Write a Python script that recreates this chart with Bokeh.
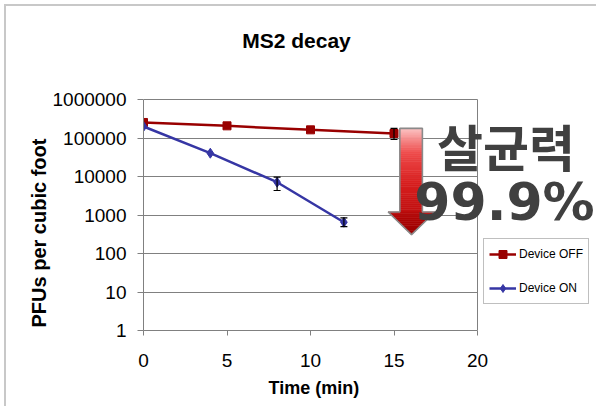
import numpy as np
from bokeh.plotting import figure
from bokeh.models import (Range1d, FixedTicker, Label, Legend, LegendItem, Title,
                          Whisker, ColumnDataSource, TeeHead, BoxAnnotation)
from bokeh.embed import file_html
from bokeh.resources import INLINE

# ---------------- data ----------------
title_text = "MS2 decay"
x_label = "Time (min)"
y_label = "PFUs per cubic foot"
x_ticks = [0, 5, 10, 15, 20]
y_ticks = [1, 10, 100, 1000, 10000, 100000, 1000000]
y_tick_labels = ["1", "10", "100", "1000", "10000", "100000", "1000000"]

off_name = "Device OFF"
off_time = [0, 5, 10, 15]
off_pfu = [253000, 207000, 163000, 131000]
off_upper = [253000, 207000, 163000, 177000]
off_lower = [253000, 207000, 163000, 91500]

on_name = "Device ON"
on_time = [0, 4, 8, 12]
on_pfu = [199000, 40300, 7100, 650]
on_upper = [199000, 40300, 9600, 846]
on_lower = [199000, 40300, 4330, 500]

annot_line1 = "살균력"
annot_line2 = "99.9%"

# ---------------- layout ----------------
OX, OY = 6, 6                        # canvas offset on page (margin 4 + border 2)
W, H = 592, 402
FL, FB = 143, 330                    # plot-area left / bottom (page px)
AX_R, AX_T = 477, 99                 # where x=20 and y=1e6 sit (page px)
X_MAX, Y_MAX = x_ticks[-1], y_ticks[-1]
px_per_x = (AX_R - FL) / X_MAX
px_per_dec = (FB - AX_T) / np.log10(Y_MAX)
x_end = X_MAX + (OX + W - AX_R) / px_per_x
y_end = 10 ** (np.log10(Y_MAX) + (AX_T - OY) / px_per_dec)

p = figure(width=W, height=H, output_backend="svg", toolbar_location=None,
           title=None, y_axis_type="log",
           x_range=Range1d(0, x_end), y_range=Range1d(1, y_end),
           min_border=0, min_border_left=FL - OX, min_border_right=0,
           min_border_top=0, min_border_bottom=OY + H - FB,
           background_fill_color="white", border_fill_color="white")
p.styles = {"border-top": "2px solid #c8c8c8", "border-left": "2px solid #c8c8c8",
            "margin-top": "4px", "margin-left": "4px"}

p.outline_line_color = None
p.xgrid.visible = False
p.ygrid.grid_line_color = "#808080"
p.ygrid.grid_line_width = 1
p.ygrid.ticker = FixedTicker(ticks=y_ticks)

p.xaxis.ticker = FixedTicker(ticks=x_ticks)
p.yaxis.ticker = FixedTicker(ticks=y_ticks)
p.xaxis.bounds = (x_ticks[0], x_ticks[-1])
p.yaxis.bounds = (y_ticks[0], y_ticks[-1])
p.yaxis.major_label_overrides = {t: l for t, l in zip(y_ticks, y_tick_labels)}
for ax in (p.xaxis, p.yaxis):
    ax.axis_line_color = "#808080"
    ax.major_tick_line_color = "#808080"
    ax.minor_tick_line_color = None
    ax.major_tick_in = 0
    ax.major_label_text_font = "Liberation Sans"
    ax.major_label_text_font_size = "19px"
    ax.major_label_text_color = "black"
p.yaxis.major_tick_out = 6
p.yaxis.major_label_standoff = 11
p.xaxis.major_tick_out = 5
p.xaxis.major_label_standoff = 18

# axis titles (placed by the layout, outside the axes)
p.add_layout(Title(text=y_label, align="left", offset=3, standoff=0,
                   vertical_align="bottom", text_font="Liberation Sans",
                   text_font_size="20px", text_font_style="bold",
                   text_color="black"), "left")
p.add_layout(Title(text=x_label, align="left", offset=268 - FL, standoff=17,
                   vertical_align="top", text_font="Liberation Sans",
                   text_font_size="18px", text_font_style="bold",
                   text_color="black"), "below")

# hide grid beyond the plot area on the right
p.add_layout(BoxAnnotation(left=X_MAX, fill_color="white", fill_alpha=1,
                           line_color=None, level="underlay"))
# right border of plot area
p.segment(x0=[X_MAX], y0=[y_ticks[0]], x1=[X_MAX], y1=[Y_MAX],
          line_color="#808080", line_width=1)

# ---------------- arrow (decoration) ----------------
SHAFT_X0, SHAFT_X1 = 15.35, 16.7
HEAD_X0, HEAD_X1 = 14.65, 17.45
TOP, NECK, TIP = 1.78e5, 1.2e3, 3.1e2


def lerp_color(stops, t):
    for (t0, c0), (t1, c1) in zip(stops[:-1], stops[1:]):
        if t <= t1:
            f = (t - t0) / (t1 - t0) if t1 > t0 else 0
            a = [int(c0[i:i + 2], 16) for i in (1, 3, 5)]
            b = [int(c1[i:i + 2], 16) for i in (1, 3, 5)]
            return "#%02x%02x%02x" % tuple(round(a[k] + (b[k] - a[k]) * f) for k in range(3))
    return stops[-1][1]


shaft_stops = [(0, "#fcc4c4"), (0.3, "#ee4a4a"), (0.65, "#d82020"), (1.0, "#c01010")]
head_stops = [(0, "#b80a0a"), (1.0, "#980000")]
xs, ys, cs = [], [], []
N = 40
lt, ln = np.log10(TOP), np.log10(NECK)
for i in range(N):
    a = 10 ** (lt + (ln - lt) * i / N)
    b = 10 ** (lt + (ln - lt) * (i + 1) / N)
    xs.append([SHAFT_X0, SHAFT_X1, SHAFT_X1, SHAFT_X0])
    ys.append([a, a, b, b])
    cs.append(lerp_color(shaft_stops, (i + 0.5) / N))
M = 12
lp = np.log10(TIP)
cx = (HEAD_X0 + HEAD_X1) / 2
hw = (HEAD_X1 - HEAD_X0) / 2
for i in range(M):
    f0, f1 = i / M, (i + 1) / M
    a = 10 ** (ln + (lp - ln) * f0)
    b = 10 ** (ln + (lp - ln) * f1)
    w0, w1 = hw * (1 - f0), hw * (1 - f1)
    xs.append([cx - w0, cx + w0, cx + w1, cx - w1])
    ys.append([a, a, b, b])
    cs.append(lerp_color(head_stops, (i + 0.5) / M))
p.patches(xs, ys, fill_color=cs, line_color=cs, line_width=0.6)
p.patch([SHAFT_X0, SHAFT_X1, SHAFT_X1, HEAD_X1, cx, HEAD_X0, SHAFT_X0, SHAFT_X0],
        [TOP, TOP, NECK, NECK, TIP, NECK, NECK, TOP],
        fill_alpha=0, line_color="#8a8a8a", line_width=1.6)

# ---------------- series ----------------
OFF_C = "#990000"
ON_C = "#3636a4"
r_off_l = p.line(off_time, off_pfu, line_color=OFF_C, line_width=2.5)
r_off_m = p.scatter(off_time, off_pfu, marker="square", size=8, color=OFF_C)
r_on_l = p.line(on_time, on_pfu, line_color=ON_C, line_width=2.5)
r_on_m = p.scatter(on_time, on_pfu, marker="diamond", size=10, color=ON_C)

for t, u, l in ((off_time, off_upper, off_lower), (on_time, on_upper, on_lower)):
    sel = [i for i in range(len(t)) if u[i] != l[i]]
    src = ColumnDataSource(dict(x=[t[i] for i in sel], upper=[u[i] for i in sel],
                                lower=[l[i] for i in sel]))
    w = Whisker(base="x", upper="upper", lower="lower", source=src,
                line_color="black", line_width=1.2, level="glyph",
                upper_head=TeeHead(size=7, line_color="black", line_width=1.2),
                lower_head=TeeHead(size=7, line_color="black", line_width=1.2))
    p.add_layout(w)

legend = Legend(items=[LegendItem(label=off_name, renderers=[r_off_l, r_off_m]),
                       LegendItem(label=on_name, renderers=[r_on_l, r_on_m])],
                location=(483 - FL, FB - 304))
legend.label_text_font = "Liberation Sans"
legend.label_text_font_size = "12px"
legend.label_text_color = "black"
legend.glyph_width = 27
legend.glyph_height = 20
legend.label_height = 20
legend.label_standoff = 3
legend.spacing = 14
legend.padding = 5
legend.margin = 0
legend.border_line_color = "#808080"
legend.border_line_width = 1
legend.background_fill_color = "white"
p.add_layout(legend, "center")

# ---------------- texts ----------------
def lab(text, px, py, size, font="Liberation Sans", style="bold", color="black",
        align="center", baseline="alphabetic", angle=0):
    p.add_layout(Label(x=px - FL, y=FB - py, x_units="screen", y_units="screen",
                       text=text, text_font=font, text_font_size=size,
                       text_font_style=style, text_color=color, text_align=align,
                       text_baseline=baseline, angle=angle))


lab(title_text, 296, 40, "21px")
lab(annot_line1, 505.5, 144.5, "50px", font="Noto Sans CJK KR", color="#404040",
    baseline="middle")
lab(annot_line2, 504, 201, "52px", font="DejaVu Sans", color="#404040")

open("out.html", "w").write(file_html(p, INLINE))
